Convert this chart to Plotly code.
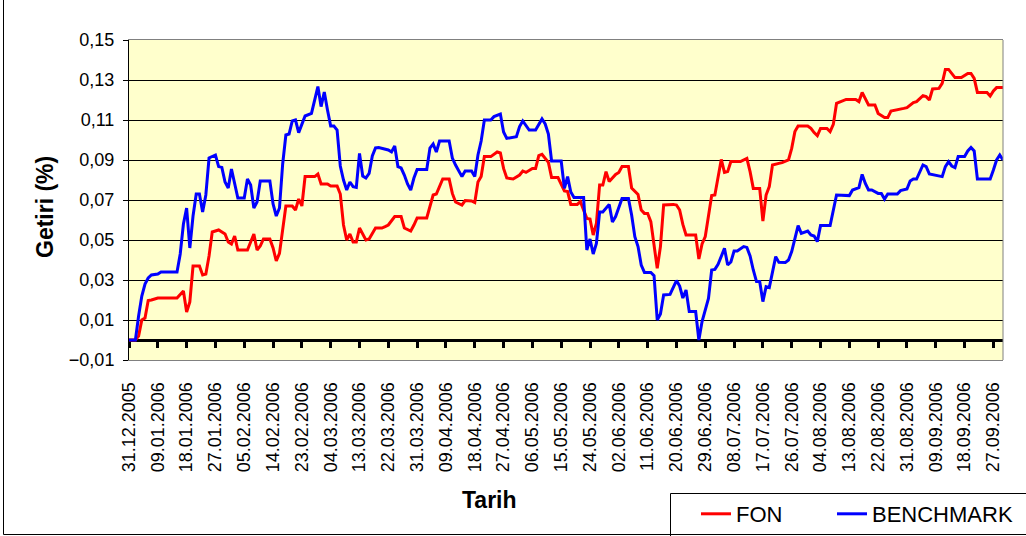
import plotly.graph_objects as go
import pandas as pd

tick_labels = ["31.12.2005", "09.01.2006", "18.01.2006", "27.01.2006", "05.02.2006", "14.02.2006",
               "23.02.2006", "04.03.2006", "13.03.2006", "22.03.2006", "31.03.2006", "09.04.2006",
               "18.04.2006", "27.04.2006", "06.05.2006", "15.05.2006", "24.05.2006", "02.06.2006",
               "11.06.2006", "20.06.2006", "29.06.2006", "08.07.2006", "17.07.2006", "26.07.2006",
               "04.08.2006", "13.08.2006", "22.08.2006", "31.08.2006", "09.09.2006", "18.09.2006",
               "27.09.2006"]
y_ticks = [-0.01, 0.01, 0.03, 0.05, 0.07, 0.09, 0.11, 0.13, 0.15]

fon_dates = ["2005-12-31", "2006-01-02", "2006-01-03", "2006-01-04", "2006-01-05", "2006-01-06", "2006-01-07",
             "2006-01-09", "2006-01-15", "2006-01-16", "2006-01-17", "2006-01-18", "2006-01-19", "2006-01-20",
             "2006-01-22", "2006-01-23", "2006-01-24", "2006-01-25", "2006-01-26", "2006-01-28", "2006-01-30",
             "2006-01-31", "2006-02-01", "2006-02-02", "2006-02-03", "2006-02-06", "2006-02-07", "2006-02-08",
             "2006-02-09", "2006-02-10", "2006-02-11", "2006-02-13", "2006-02-14", "2006-02-15", "2006-02-16",
             "2006-02-17", "2006-02-18", "2006-02-20", "2006-02-21", "2006-02-22", "2006-02-23", "2006-02-24",
             "2006-02-27", "2006-02-28", "2006-03-01", "2006-03-03", "2006-03-04", "2006-03-06", "2006-03-07",
             "2006-03-08", "2006-03-09", "2006-03-10", "2006-03-11", "2006-03-12", "2006-03-13", "2006-03-15",
             "2006-03-16", "2006-03-18", "2006-03-20", "2006-03-21", "2006-03-22", "2006-03-24", "2006-03-26",
             "2006-03-27", "2006-03-29", "2006-03-30", "2006-03-31", "2006-04-03", "2006-04-04", "2006-04-05",
             "2006-04-06", "2006-04-08", "2006-04-10", "2006-04-11", "2006-04-12", "2006-04-14", "2006-04-15",
             "2006-04-17", "2006-04-18", "2006-04-19", "2006-04-20", "2006-04-21", "2006-04-23", "2006-04-25",
             "2006-04-26", "2006-04-27", "2006-04-28", "2006-04-30", "2006-05-02", "2006-05-03", "2006-05-04",
             "2006-05-06", "2006-05-07", "2006-05-08", "2006-05-09", "2006-05-11", "2006-05-12", "2006-05-14",
             "2006-05-16", "2006-05-17", "2006-05-18", "2006-05-20", "2006-05-21", "2006-05-23", "2006-05-24",
             "2006-05-25", "2006-05-26", "2006-05-27", "2006-05-28", "2006-05-29", "2006-05-30", "2006-06-01",
             "2006-06-02", "2006-06-03", "2006-06-05", "2006-06-06", "2006-06-08", "2006-06-09", "2006-06-10",
             "2006-06-11", "2006-06-12", "2006-06-14", "2006-06-15", "2006-06-16", "2006-06-19", "2006-06-20",
             "2006-06-21", "2006-06-22", "2006-06-23", "2006-06-26", "2006-06-27", "2006-06-28", "2006-06-29",
             "2006-06-30", "2006-07-01", "2006-07-02", "2006-07-03", "2006-07-04", "2006-07-05", "2006-07-06",
             "2006-07-07", "2006-07-10", "2006-07-12", "2006-07-13", "2006-07-14", "2006-07-16", "2006-07-17",
             "2006-07-18", "2006-07-19", "2006-07-20", "2006-07-22", "2006-07-23", "2006-07-25", "2006-07-26",
             "2006-07-27", "2006-07-28", "2006-07-31", "2006-08-01", "2006-08-02", "2006-08-03", "2006-08-04",
             "2006-08-06", "2006-08-07", "2006-08-08", "2006-08-09", "2006-08-11", "2006-08-12", "2006-08-15",
             "2006-08-16", "2006-08-17", "2006-08-19", "2006-08-21", "2006-08-22", "2006-08-24", "2006-08-25",
             "2006-08-26", "2006-08-28", "2006-08-30", "2006-08-31", "2006-09-02", "2006-09-03", "2006-09-05",
             "2006-09-06", "2006-09-07", "2006-09-08", "2006-09-10", "2006-09-11", "2006-09-12", "2006-09-13",
             "2006-09-15", "2006-09-17", "2006-09-19", "2006-09-20", "2006-09-21", "2006-09-22", "2006-09-25",
             "2006-09-26", "2006-09-27", "2006-09-28", "2006-09-30"]
fon_values = [0.0, 0.0, 0.002, 0.01, 0.011, 0.0197, 0.02,
              0.021, 0.021, 0.0225, 0.0245, 0.014, 0.019, 0.037,
              0.037, 0.0325, 0.033, 0.042, 0.054, 0.055, 0.053,
              0.049, 0.048, 0.052, 0.045, 0.045, 0.049, 0.053,
              0.045, 0.047, 0.0505, 0.0505, 0.046, 0.0395, 0.0433,
              0.056, 0.067, 0.067, 0.065, 0.0705, 0.067, 0.0817,
              0.0817, 0.083, 0.078, 0.078, 0.077, 0.077, 0.073,
              0.0575, 0.05, 0.053, 0.049, 0.049, 0.056, 0.05,
              0.0505, 0.056, 0.056, 0.0567, 0.0575, 0.0617, 0.0617,
              0.056, 0.0545, 0.0575, 0.061, 0.061, 0.0667, 0.0725,
              0.073, 0.0805, 0.0805, 0.0733, 0.069, 0.0675, 0.0697,
              0.0695, 0.0687, 0.079, 0.0817, 0.0917, 0.0917, 0.094,
              0.0935, 0.0858, 0.081, 0.0805, 0.0825, 0.0845, 0.0838,
              0.0858, 0.0858, 0.0922, 0.0928, 0.0888, 0.0812, 0.0812,
              0.0745, 0.0742, 0.0678, 0.0678, 0.0692, 0.0608, 0.0605,
              0.0525, 0.0583, 0.0775, 0.0775, 0.0842, 0.0792, 0.0828,
              0.0838, 0.0867, 0.0867, 0.076, 0.0728, 0.065, 0.0633,
              0.0633, 0.0592, 0.0358, 0.0467, 0.0675, 0.0678, 0.0675,
              0.065, 0.0578, 0.0525, 0.0525, 0.0405, 0.048, 0.0517,
              0.0625, 0.0722, 0.0725, 0.0817, 0.0903, 0.0838, 0.0842,
              0.0892, 0.0892, 0.0908, 0.0842, 0.0758, 0.0758, 0.0595,
              0.0725, 0.0767, 0.0875, 0.0883, 0.0887, 0.09, 0.0958,
              0.1042, 0.107, 0.107, 0.1058, 0.1037, 0.1022, 0.1058,
              0.1058, 0.1042, 0.1078, 0.1183, 0.1197, 0.1203, 0.1203,
              0.1192, 0.1238, 0.1175, 0.1175, 0.1133, 0.1112, 0.1112,
              0.1145, 0.115, 0.1158, 0.1162, 0.1187, 0.1192, 0.1222,
              0.1217, 0.12, 0.1255, 0.1258, 0.1283, 0.1353, 0.1353,
              0.1312, 0.1312, 0.1333, 0.1333, 0.1308, 0.1238, 0.1238,
              0.122, 0.1245, 0.1262, 0.1262]

bm_dates = ["2005-12-31", "2006-01-02", "2006-01-03", "2006-01-04", "2006-01-05", "2006-01-06", "2006-01-07",
            "2006-01-09", "2006-01-10", "2006-01-15", "2006-01-16", "2006-01-17", "2006-01-18", "2006-01-19",
            "2006-01-20", "2006-01-21", "2006-01-22", "2006-01-23", "2006-01-24", "2006-01-25", "2006-01-27",
            "2006-01-28", "2006-01-29", "2006-01-30", "2006-01-31", "2006-02-01", "2006-02-03", "2006-02-05",
            "2006-02-06", "2006-02-07", "2006-02-08", "2006-02-09", "2006-02-10", "2006-02-13", "2006-02-14",
            "2006-02-15", "2006-02-16", "2006-02-17", "2006-02-18", "2006-02-19", "2006-02-20", "2006-02-21",
            "2006-02-22", "2006-02-24", "2006-02-26", "2006-02-28", "2006-03-01", "2006-03-02", "2006-03-03",
            "2006-03-04", "2006-03-05", "2006-03-06", "2006-03-07", "2006-03-08", "2006-03-09", "2006-03-10",
            "2006-03-11", "2006-03-12", "2006-03-13", "2006-03-14", "2006-03-15", "2006-03-16", "2006-03-17",
            "2006-03-18", "2006-03-19", "2006-03-22", "2006-03-23", "2006-03-24", "2006-03-25", "2006-03-26",
            "2006-03-27", "2006-03-28", "2006-03-29", "2006-03-30", "2006-03-31", "2006-04-03", "2006-04-04",
            "2006-04-05", "2006-04-06", "2006-04-07", "2006-04-10", "2006-04-11", "2006-04-12", "2006-04-14",
            "2006-04-15", "2006-04-17", "2006-04-18", "2006-04-19", "2006-04-20", "2006-04-21", "2006-04-23",
            "2006-04-24", "2006-04-26", "2006-04-27", "2006-04-28", "2006-05-01", "2006-05-02", "2006-05-03",
            "2006-05-05", "2006-05-07", "2006-05-09", "2006-05-10", "2006-05-11", "2006-05-12", "2006-05-15",
            "2006-05-16", "2006-05-17", "2006-05-18", "2006-05-19", "2006-05-22", "2006-05-23", "2006-05-24",
            "2006-05-25", "2006-05-26", "2006-05-27", "2006-05-28", "2006-05-30", "2006-05-31", "2006-06-01",
            "2006-06-03", "2006-06-05", "2006-06-06", "2006-06-07", "2006-06-08", "2006-06-09", "2006-06-10",
            "2006-06-12", "2006-06-13", "2006-06-14", "2006-06-15", "2006-06-16", "2006-06-18", "2006-06-20",
            "2006-06-21", "2006-06-22", "2006-06-23", "2006-06-24", "2006-06-26", "2006-06-27", "2006-06-28",
            "2006-06-30", "2006-07-01", "2006-07-02", "2006-07-03", "2006-07-05", "2006-07-06", "2006-07-07",
            "2006-07-08", "2006-07-09", "2006-07-11", "2006-07-12", "2006-07-13", "2006-07-14", "2006-07-15",
            "2006-07-16", "2006-07-17", "2006-07-18", "2006-07-19", "2006-07-21", "2006-07-22", "2006-07-24",
            "2006-07-25", "2006-07-26", "2006-07-27", "2006-07-28", "2006-07-29", "2006-07-31", "2006-08-01",
            "2006-08-02", "2006-08-03", "2006-08-04", "2006-08-07", "2006-08-08", "2006-08-09", "2006-08-13",
            "2006-08-14", "2006-08-16", "2006-08-17", "2006-08-18", "2006-08-19", "2006-08-20", "2006-08-22",
            "2006-08-23", "2006-08-24", "2006-08-25", "2006-08-28", "2006-08-29", "2006-08-31", "2006-09-01",
            "2006-09-02", "2006-09-03", "2006-09-05", "2006-09-06", "2006-09-07", "2006-09-11", "2006-09-12",
            "2006-09-13", "2006-09-14", "2006-09-15", "2006-09-16", "2006-09-18", "2006-09-19", "2006-09-20",
            "2006-09-21", "2006-09-22", "2006-09-26", "2006-09-27", "2006-09-28", "2006-09-29", "2006-09-30"]
bm_values = [0.0, 0.0, 0.012, 0.022, 0.028, 0.031, 0.0325,
             0.033, 0.034, 0.034, 0.043, 0.058, 0.066, 0.046,
             0.062, 0.073, 0.073, 0.064, 0.0725, 0.091, 0.0925,
             0.0867, 0.0863, 0.079, 0.076, 0.0855, 0.071, 0.071,
             0.0805, 0.0775, 0.066, 0.069, 0.0795, 0.0795, 0.068,
             0.062, 0.066, 0.088, 0.1025, 0.103, 0.1095, 0.11,
             0.1037, 0.112, 0.1133, 0.1267, 0.1167, 0.124, 0.115,
             0.107, 0.107, 0.105, 0.087, 0.08, 0.075, 0.079,
             0.0767, 0.0763, 0.0933, 0.082, 0.081, 0.0833, 0.092,
             0.096, 0.0962, 0.095, 0.094, 0.097, 0.0867, 0.086,
             0.0825, 0.078, 0.075, 0.081, 0.0853, 0.0853, 0.096,
             0.098, 0.094, 0.0995, 0.0995, 0.091, 0.0875, 0.0817,
             0.0845, 0.0845, 0.0817, 0.0925, 0.0995, 0.11, 0.11,
             0.1117, 0.113, 0.104, 0.1008, 0.1017, 0.1067, 0.1095,
             0.105, 0.105, 0.1105, 0.108, 0.103, 0.0895, 0.0895,
             0.0758, 0.0817, 0.074, 0.0713, 0.0713, 0.045, 0.0505,
             0.043, 0.0483, 0.064, 0.064, 0.0678, 0.059, 0.0617,
             0.0708, 0.0708, 0.0625, 0.0517, 0.0467, 0.0375, 0.0338,
             0.0338, 0.0322, 0.01, 0.013, 0.0225, 0.0228, 0.0297,
             0.027, 0.021, 0.025, 0.0142, 0.0142, 0.0, 0.0092,
             0.0208, 0.035, 0.0353, 0.0378, 0.0458, 0.0375, 0.039,
             0.0445, 0.0445, 0.0467, 0.0463, 0.042, 0.035, 0.0292,
             0.0292, 0.0192, 0.0267, 0.0262, 0.0417, 0.0388, 0.0387,
             0.04, 0.0442, 0.0508, 0.0572, 0.0533, 0.0545, 0.0525,
             0.052, 0.0492, 0.0572, 0.0572, 0.0642, 0.0725, 0.0722,
             0.075, 0.0762, 0.0828, 0.0783, 0.075, 0.075, 0.0733,
             0.0733, 0.0705, 0.073, 0.073, 0.0747, 0.0755, 0.0795,
             0.0805, 0.0805, 0.0875, 0.0867, 0.083, 0.0817, 0.0867,
             0.0892, 0.087, 0.0862, 0.0917, 0.0917, 0.0945, 0.0963,
             0.0945, 0.0805, 0.0805, 0.085, 0.09, 0.0925, 0.09]

x_start, x_end = "2005-12-31", "2006-09-30"
tick_vals = pd.to_datetime(tick_labels, format="%d.%m.%Y")

FONT = "Liberation Sans, Arial, sans-serif"
W, H = 1026, 536
ML, MR, MT, MB = 129, 23, 40, 176
PW, PH = W - ML - MR, H - MT - MB


def px_x(p):
    return (p - ML) / PW


def px_y(q):
    return (H - MB - q) / PH


fig = go.Figure()
fig.add_trace(go.Scatter(x=fon_dates, y=fon_values, name="FON", mode="lines",
                         line=dict(color="#FF0000", width=3), xaxis="x", yaxis="y",
                         legend="legend"))
fig.add_trace(go.Scatter(x=bm_dates, y=bm_values, name="BENCHMARK", mode="lines",
                         line=dict(color="#0000FF", width=3), xaxis="x2", yaxis="y",
                         legend="legend2"))

yr = [y_ticks[0], y_ticks[-1]]
zero_pos = (0 - yr[0]) / (yr[1] - yr[0])

leg_common = dict(orientation="h", xanchor="left", yanchor="top",
                  bgcolor="rgba(0,0,0,0)", borderwidth=0,
                  font=dict(family=FONT, size=22, color="black"))

fig.update_layout(
    width=W, height=H,
    margin=dict(l=ML, r=MR, t=MT, b=MB, autoexpand=False),
    paper_bgcolor="white",
    plot_bgcolor="#FFFFCC",
    separators=", ",
    font=dict(family=FONT, size=18, color="black"),
    showlegend=True,
    legend=dict(x=px_x(696), y=px_y(493), **leg_common),
    legend2=dict(x=px_x(832), y=px_y(493), **leg_common),
    xaxis=dict(type="date", range=[x_start, x_end], tickvals=tick_vals, ticktext=tick_labels,
               tickangle=-90, ticks="", ticklabelstandoff=14, showgrid=False,
               showline=True, linecolor="#808080", linewidth=1, mirror=True,
               tickfont=dict(family=FONT, size=18, color="black"), zeroline=False),
    xaxis2=dict(type="date", range=[x_start, x_end], tickvals=tick_vals, overlaying="x",
                anchor="free", position=zero_pos, showticklabels=False,
                ticks="outside", ticklen=6, tickwidth=3, tickcolor="black",
                showline=True, linecolor="black", linewidth=3, showgrid=False,
                zeroline=False, layer="below traces"),
    yaxis=dict(range=yr, tickvals=y_ticks, tickformat=".2f", ticks="outside", ticklen=5,
               ticklabelstandoff=5,
               tickcolor="black", showline=True, linecolor="black", linewidth=1,
               showgrid=True, gridcolor="black", gridwidth=1, zeroline=False,
               tickfont=dict(family=FONT, size=18, color="black")),
    shapes=[
        dict(type="line", xref="paper", yref="paper", x0=1, x1=1, y0=0, y1=1,
             line=dict(color="#808080", width=1)),
        dict(type="rect", xref="paper", yref="paper", x0=px_x(670.5), x1=px_x(1040),
             y0=px_y(493.5), y1=px_y(560), line=dict(color="black", width=1)),
        dict(type="line", xref="paper", yref="paper", x0=px_x(3.5), x1=px_x(3.5),
             y0=px_y(0), y1=px_y(534.5), line=dict(color="black", width=1)),
        dict(type="line", xref="paper", yref="paper", x0=px_x(3.5), x1=px_x(1040),
             y0=px_y(534.5), y1=px_y(534.5), line=dict(color="black", width=1)),
    ],
    annotations=[
        dict(text="<b>Getiri (%)</b>", xref="paper", yref="paper", x=px_x(45), y=px_y(207),
             xanchor="center", yanchor="middle",
             textangle=-90, showarrow=False, font=dict(family=FONT, size=23, color="black")),
        dict(text="<b>Tarih</b>", xref="paper", yref="paper", x=px_x(489), y=px_y(500),
             xanchor="center", yanchor="middle",
             showarrow=False, font=dict(family=FONT, size=23, color="black")),
    ],
)

fig.write_html("out.html", config={"displayModeBar": False},
               post_script="document.body.style.margin='0';document.body.style.overflow='hidden';")
